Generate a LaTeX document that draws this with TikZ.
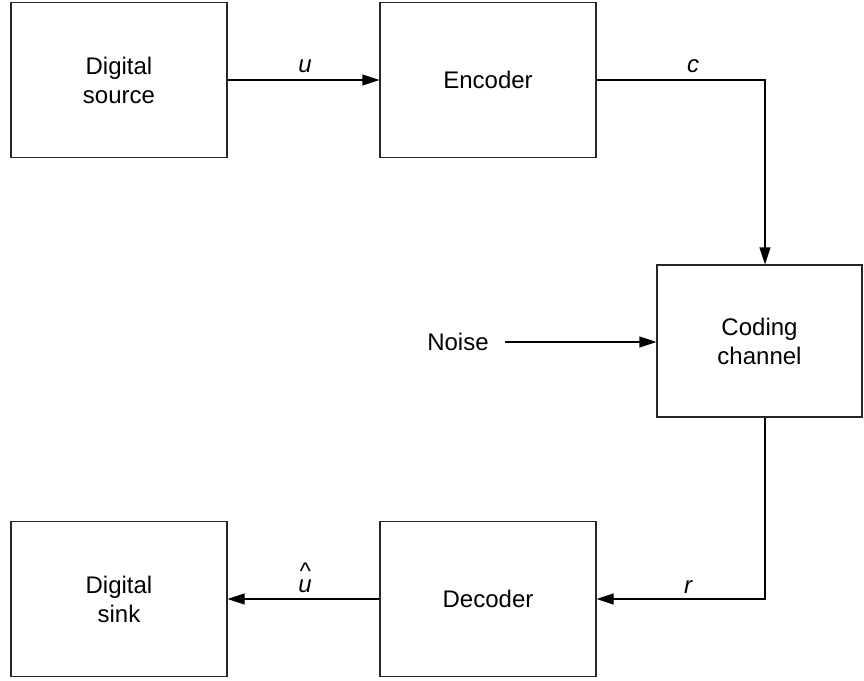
\documentclass[tikz,border=0pt]{standalone}
\usepackage{fontspec}
\setmainfont{Liberation Sans}
\usetikzlibrary{arrows.meta}
\begin{document}
\begin{tikzpicture}[x=1pt,y=-1pt,
  block/.style={draw=black!85, line width=1.3pt, minimum width=216pt, minimum height=155pt,
    align=center, font=\fontsize{24}{29}\selectfont, inner sep=0pt},
  link/.style={draw=black, line width=1.3pt, -{Triangle[length=17pt,width=11pt]}},
  lbl/.style={font=\fontsize{24}{29}\selectfont\itshape, inner sep=0pt}]
\useasboundingbox (0,0) rectangle (864,680);
\node[block] (src) at (119,80) {Digital\\source};
\node[block] (enc) at (488,80) {Encoder};
\node[block, minimum width=205pt, minimum height=152pt] (chan) at (759.5,341) {Coding\\channel};
\node[block] (dec) at (488,599) {Decoder};
\node[block] (sink) at (119,599) {Digital\\sink};
\node[font=\fontsize{24}{29}\selectfont, inner sep=0pt] (noise) at (458,342) {Noise};
% the channel is fed and drained along x = 765
\coordinate (cin) at ([xshift=5.5pt]chan.north);
\coordinate (cout) at ([xshift=5.5pt]chan.south);
\coordinate (cturn) at (cin |- enc.east);
\coordinate (rturn) at (cout |- dec.east);
\draw[link] (src.east) -- (enc.west);
\draw[link] (enc.east) -- (cturn) -- (cin);
\draw[link] ([xshift=16pt]noise.east) -- (noise -| chan.west);
\draw[link] (cout) -- (rturn) -- (dec.east);
\draw[link] (dec.west) -- (sink.east);
\node[lbl] (ulbl) at (305,66) {u};
\node[lbl] (clbl) at (693,66) {c};
\node[lbl] (rlbl) at (688,587) {r};
\node[lbl, align=center] (uhat) at (305,578) {\textasciicircum\\[-16pt]u};
\end{tikzpicture}
\end{document}
